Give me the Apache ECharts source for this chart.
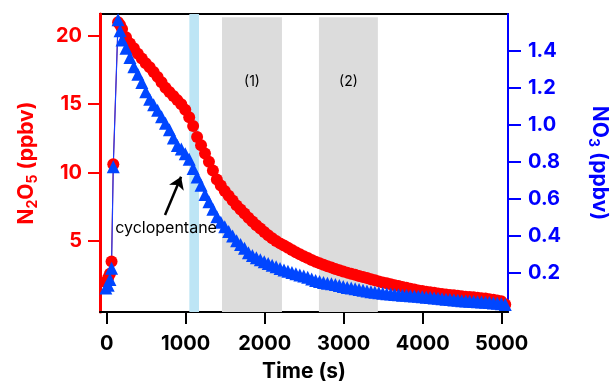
<!DOCTYPE html>
<html>
<head>
<meta charset="utf-8">
<script src="https://cdn.jsdelivr.net/npm/echarts@6.0.0/dist/echarts.min.js"></script>
<style>
  html, body { margin: 0; padding: 0; background: #fff; }
  #chart { width: 610px; height: 387px; }
</style>
</head>
<body>
<div id="chart"></div>
<script>
// time (s)
const times = [
  -10, 20, 42, 62, 84, 145, 170,
  195, 245, 295, 345, 395, 445, 495, 545, 595, 645, 695, 745, 795, 845, 895, 945, 995,
  1045, 1095, 1145, 1195, 1245, 1295, 1345, 1395, 1445, 1495, 1545, 1595, 1645, 1695, 1745, 1795, 1845, 1895, 1945, 1995,
  2045, 2095, 2145, 2195, 2245, 2295, 2345, 2395, 2445, 2495, 2545, 2595, 2645, 2695, 2745, 2795, 2845, 2895, 2945, 2995,
  3045, 3095, 3145, 3195, 3245, 3295, 3345, 3395, 3445, 3495, 3545, 3595, 3645, 3695, 3745, 3795, 3845, 3895, 3945, 3995,
  4045, 4095, 4145, 4195, 4245, 4295, 4345, 4395, 4445, 4495, 4545, 4595, 4645, 4695, 4745, 4795, 4845, 4895, 4945, 4995,
  5045
];
// N2O5 (ppbv)
const n2o5 = [
  2.0, 2.3, 2.6, 3.5, 10.6, 21.0, 20.8,
  20.5, 19.9, 19.45, 19.1, 18.7, 18.35, 18.0, 17.7, 17.35, 17.0, 16.6, 16.2, 15.9, 15.6, 15.3, 15.0, 14.6,
  14.05, 13.4, 12.6, 12.0, 11.4, 10.8, 10.15, 9.5, 9.05, 8.65, 8.3, 7.95, 7.6, 7.3, 7.0, 6.7, 6.42, 6.15, 5.9, 5.65,
  5.42, 5.2, 5.0, 4.82, 4.66, 4.5, 4.33, 4.17, 4.03, 3.88, 3.75, 3.6, 3.48, 3.37, 3.26, 3.15, 3.05, 2.95, 2.86, 2.77,
  2.68, 2.6, 2.52, 2.44, 2.36, 2.28, 2.2, 2.12, 2.04, 1.96, 1.9, 1.83, 1.76, 1.7, 1.63, 1.57, 1.5, 1.44, 1.38, 1.33,
  1.28, 1.24, 1.2, 1.16, 1.12, 1.08, 1.05, 1.02, 0.98, 0.95, 0.92, 0.89, 0.87, 0.84, 0.81, 0.78, 0.74, 0.7, 0.64, 0.58,
  0.35
];
// NO3 (ppbv)
const no3 = [
  0.12, 0.135, 0.165, 0.227, 0.775, 1.569, 1.51,
  1.46, 1.415, 1.365, 1.315, 1.275, 1.23, 1.18, 1.14, 1.11, 1.08, 1.045, 1.01, 0.975, 0.93, 0.89, 0.87, 0.845,
  0.815, 0.765, 0.72, 0.675, 0.625, 0.585, 0.545, 0.505, 0.475, 0.45, 0.425, 0.4, 0.375, 0.355, 0.335, 0.31, 0.295, 0.283, 0.272, 0.262,
  0.252, 0.243, 0.234, 0.225, 0.217, 0.21, 0.203, 0.197, 0.19, 0.184, 0.178, 0.168, 0.16, 0.155, 0.15, 0.146, 0.142, 0.138, 0.133, 0.128,
  0.123, 0.119, 0.115, 0.111, 0.108, 0.104, 0.1, 0.097, 0.094, 0.091, 0.089, 0.087, 0.085, 0.083, 0.081, 0.08, 0.078, 0.076, 0.075, 0.073,
  0.07, 0.068, 0.066, 0.064, 0.062, 0.059, 0.057, 0.055, 0.053, 0.051, 0.05, 0.048, 0.047, 0.045, 0.044, 0.043, 0.041, 0.039, 0.037, 0.035,
  0.03
];

const timeTicks = [0, 1000, 2000, 3000, 4000, 5000];
const n2o5Ticks = [5, 10, 15, 20];
const no3Ticks = [0.2, 0.4, 0.6, 0.8, 1.0, 1.2, 1.4];

// cyclopentane addition and the two periods (s)
const injection = [1047, 1169];
const periods = [[1460, 2219, '(1)'], [2687, 3433, '(2)']];

// annotation arrow, in [time, N2O5]
const arrowFrom = [739, 6.9];
const arrowTo = [942, 9.7];
const noteAt = [752, 5.9];

const FONT = 'Inter';

const myChart = echarts.init(document.getElementById('chart'));

const tickLabel = (color) => ({
  color: color,
  fontSize: 20,
  fontWeight: 'bold',
  fontFamily: FONT
});

const nameStyle = (color) => ({
  color: color,
  fontSize: 21,
  fontWeight: 'bold',
  fontFamily: FONT,
  lineHeight: 26,
  rich: {
    s: {
      color: color,
      fontSize: 14,
      fontWeight: 'bold',
      fontFamily: FONT,
      lineHeight: 14,
      verticalAlign: 'bottom'
    }
  }
});

myChart.setOption({
  animation: false,
  grid: {
    left: 100,
    right: 102,
    top: 14,
    bottom: 75,
    show: true,
    borderColor: '#000',
    borderWidth: 2,
    outerBoundsMode: 'none'
  },
  xAxis: {
    type: 'value',
    min: -84,
    max: 5080,
    axisLine: { show: true, onZero: false, lineStyle: { color: '#000', width: 2 } },
    axisTick: { show: true, length: 12, customValues: timeTicks, lineStyle: { color: '#000', width: 2 } },
    axisLabel: Object.assign({
      customValues: timeTicks,
      margin: 22,
      formatter: (v) => String(v)
    }, tickLabel('#000')),
    splitLine: { show: false },
    name: 'Time (s)',
    nameLocation: 'middle',
    nameGap: 49,
    nameTextStyle: { color: '#000', fontSize: 21, fontWeight: 'bold', fontFamily: FONT }
  },
  yAxis: [
    {
      type: 'value',
      position: 'left',
      min: -0.2,
      max: 21.6,
      axisLine: { show: true, onZero: false, lineStyle: { color: '#ff0000', width: 3 } },
      axisTick: { show: true, length: 12, customValues: n2o5Ticks, lineStyle: { color: '#ff0000', width: 2 } },
      axisLabel: Object.assign({ customValues: n2o5Ticks, margin: 18 }, tickLabel('#ff0000')),
      splitLine: { show: false },
      name: 'N{s|2}O{s|5} (ppbv)',
      nameLocation: 'middle',
      nameGap: 60,
      nameTextStyle: nameStyle('#ff0000')
    },
    {
      type: 'value',
      position: 'right',
      min: -0.01,
      max: 1.6,
      axisLine: { show: true, onZero: false, lineStyle: { color: '#0000ff', width: 2 } },
      axisTick: { show: true, length: 13, customValues: no3Ticks, lineStyle: { color: '#0000ff', width: 2 } },
      axisLabel: Object.assign({
        customValues: no3Ticks,
        margin: 20,
        formatter: (v) => v.toFixed(1)
      }, tickLabel('#0000ff')),
      splitLine: { show: false },
      name: 'NO{s|3} (ppbv)',
      nameLocation: 'middle',
      nameRotate: -90,
      nameGap: 78,
      nameTextStyle: nameStyle('#0000ff')
    }
  ],
  series: [
    {
      name: 'N2O5',
      type: 'line',
      yAxisIndex: 0,
      data: times.map((t, i) => [t, n2o5[i]]),
      symbol: 'circle',
      symbolSize: 12,
      itemStyle: { color: '#ff0000' },
      lineStyle: { color: '#dd0000', width: 1 },
      emphasis: { disabled: true },
      markArea: {
        silent: true,
        data: [
          [
            { xAxis: injection[0], itemStyle: { color: '#bde5f5' }, label: { show: false } },
            { xAxis: injection[1] }
          ]
        ].concat(periods.map((p) => [
          {
            xAxis: p[0],
            yAxis: 21.37,
            name: p[2],
            itemStyle: { color: '#dcdcdc' },
            label: {
              show: true,
              position: ['50%', 65],
              align: 'center',
              verticalAlign: 'middle',
              color: '#000',
              fontSize: 14,
              fontFamily: FONT
            }
          },
          { xAxis: p[1], yAxis: -0.2 }
        ]))
      },
      markLine: {
        silent: true,
        symbol: ['none', 'arrow'],
        symbolSize: 12,
        label: { show: false },
        lineStyle: { color: '#000', width: 2.5, type: 'solid' },
        data: [[{ coord: arrowFrom }, { coord: arrowTo }]]
      },
      markPoint: {
        silent: true,
        symbol: 'circle',
        symbolSize: 1,
        itemStyle: { color: 'rgba(0,0,0,0)' },
        label: {
          show: true,
          position: 'inside',
          formatter: 'cyclopentane',
          color: '#000',
          fontSize: 16,
          fontFamily: FONT
        },
        data: [{ coord: noteAt }]
      }
    },
    {
      name: 'NO3',
      type: 'line',
      yAxisIndex: 1,
      data: times.map((t, i) => [t, no3[i]]),
      symbol: 'triangle',
      symbolSize: 13,
      itemStyle: { color: '#0046ff' },
      lineStyle: { color: '#1a3cff', width: 1.2 },
      emphasis: { disabled: true }
    }
  ]
});
</script>
</body>
</html>
